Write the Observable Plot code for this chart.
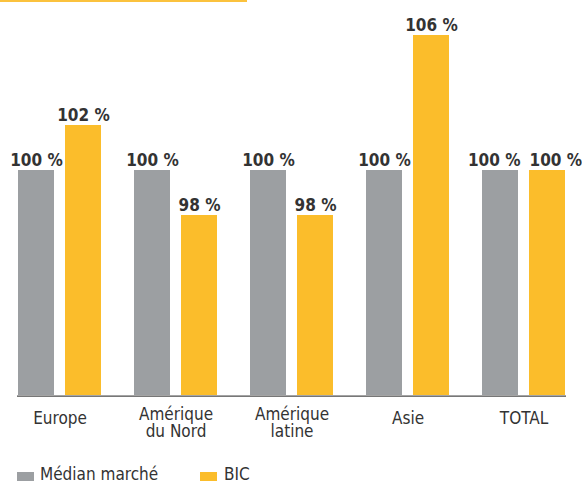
<!DOCTYPE html>
<html>
<head>
<meta charset="utf-8">
<script src="https://cdn.jsdelivr.net/npm/d3@7"></script>
<script src="https://cdn.jsdelivr.net/npm/@observablehq/plot@0.6"></script>
<style>
  html, body { margin: 0; padding: 0; background: #fff; }
  body { width: 582px; height: 481px; overflow: hidden; position: relative; font-family: "DejaVu Sans Condensed", "DejaVu Sans", sans-serif; }
  #topline { position: absolute; left: 0; top: 0; width: 247px; height: 2px; background: #fbc23d; }
  svg { display: block; }
  #legend { position: relative; height: 26px; }
  .sw { position: absolute; width: 17px; height: 17px; top: 17px; }
  .lt { position: absolute; font-size: 17px; line-height: 17px; top: 11px; color: #333; white-space: nowrap; }
</style>
</head>
<body>
<div id="topline"></div>
<div id="chart"></div>
<div id="legend"></div>
<script>
const categories = ["Europe", "Amérique du Nord", "Amérique latine", "Asie", "TOTAL"];
const tickLabels = ["Europe", "Amérique\ndu Nord", "Amérique\nlatine", "Asie", "TOTAL"];
const seriesNames = ["Médian marché", "BIC"];
const medianValues = [100, 100, 100, 100, 100];
const bicValues = [102, 98, 98, 106, 100];
const colors = ["#9c9fa2", "#fbbd2b"];
const baseValue = 90;

const median = categories.map((c, i) => ({cat: c, v: medianValues[i]}));
const bic = categories.map((c, i) => ({cat: c, v: bicValues[i]}));
const labels = categories.map((c, i) => ({cat: c, label: tickLabels[i], lines: tickLabels[i].split("\n").length}));
const oneLine = labels.filter(d => d.lines === 1);
const twoLine = labels.filter(d => d.lines === 2);
const lastCat = categories[categories.length - 1];
const notLast = d => d.cat !== lastCat;
const isLast = d => d.cat === lastCat;

const font = "DejaVu Sans Condensed, DejaVu Sans, sans-serif";
const textColor = "#333";
const valText = d => `${d.v} %`;
const valStyle = {x: "cat", y: "v", text: valText, dy: -4.5, lineAnchor: "bottom", fontSize: 17, fontWeight: "bold", fill: textColor};

const chart = Plot.plot({
  width: 582,
  height: 455,
  marginLeft: 17,
  marginRight: 16,
  marginTop: 35,
  marginBottom: 60,
  style: {fontFamily: font, background: "#fff"},
  x: {type: "band", domain: categories, paddingInner: 0.2876, paddingOuter: 0, axis: null},
  y: {domain: [baseValue, 106], axis: null},
  marks: [
    Plot.barY(median, {x: "cat", y1: baseValue, y2: "v", fill: colors[0], insetRight: 47}),
    Plot.barY(bic, {x: "cat", y1: baseValue, y2: "v", fill: colors[1], insetLeft: 47}),
    Plot.text(median.filter(notLast), {...valStyle, dx: -23.5}),
    Plot.text(bic.filter(notLast), {...valStyle, dx: 23.5}),
    Plot.text(median.filter(isLast), {...valStyle, dx: -3.5, textAnchor: "end"}),
    Plot.text(bic.filter(isLast), {...valStyle, dx: 5.5, textAnchor: "start"}),
    Plot.ruleY([baseValue], {stroke: "#4a4a4a", strokeWidth: 1.3, dy: 0.7}),
    Plot.text(oneLine, {x: "cat", text: "label", frameAnchor: "bottom", lineAnchor: "top", dy: 16, fontSize: 17, fill: textColor}),
    Plot.text(twoLine, {x: "cat", text: "label", frameAnchor: "bottom", lineAnchor: "top", dy: 12, fontSize: 17, lineHeight: 1.02, fill: textColor})
  ]
});
document.getElementById("chart").appendChild(chart);

const legend = document.getElementById("legend");
const legendPos = [{sw: 17, tx: 40}, {sw: 200, tx: 224}];
seriesNames.forEach((name, i) => {
  const s = document.createElement("div");
  s.className = "sw";
  s.style.left = legendPos[i].sw + "px";
  s.style.background = colors[i];
  legend.appendChild(s);
  const t = document.createElement("div");
  t.className = "lt";
  t.style.left = legendPos[i].tx + "px";
  t.textContent = name;
  legend.appendChild(t);
});
</script>
</body>
</html>
